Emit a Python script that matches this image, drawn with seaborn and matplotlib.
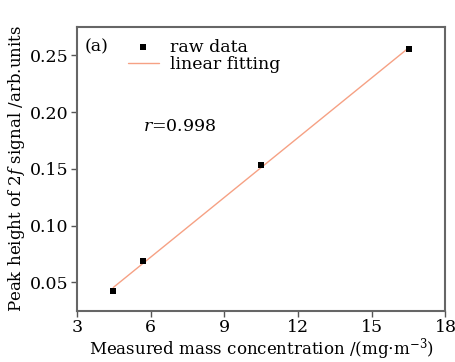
import numpy as np
import pandas as pd
import matplotlib
matplotlib.use("Agg")
import matplotlib.pyplot as plt
import seaborn as sns

# Data
concentration = [4.48, 5.70, 10.49, 16.53]
peak_height = [0.0424, 0.069, 0.153, 0.256]
x_ticks = [3, 6, 9, 12, 15, 18]
y_ticks = [0.05, 0.10, 0.15, 0.20, 0.25]

df = pd.DataFrame({"x": concentration, "y": peak_height})

sns.set_theme(style="white")
plt.rcParams["font.family"] = ["DejaVu Serif"]
plt.rcParams["mathtext.fontset"] = "dejavuserif"
plt.rcParams["text.color"] = "black"
plt.rcParams["axes.labelcolor"] = "black"
plt.rcParams["xtick.color"] = "black"
plt.rcParams["ytick.color"] = "black"

fig = plt.figure(figsize=(4.55, 3.62), dpi=100)
ax = fig.add_axes([0.169, 0.142, 0.81, 0.783])

sns.regplot(data=df, x="x", y="y", scatter=False, ci=None, ax=ax,
            line_kws=dict(color="#f6a184", lw=1.0), label="linear fitting")
sns.scatterplot(data=df, x="x", y="y", marker="s", s=22, color="black",
                edgecolor="black", linewidth=0, ax=ax, label="raw data", zorder=5)

ax.set_xlim(3, 18)
ax.set_ylim(0.025, 0.275)
ax.set_xticks(x_ticks)
ax.set_xticklabels([str(v) for v in x_ticks])
ax.set_yticks(y_ticks)
ax.set_yticklabels([f"{v:.2f}" for v in y_ticks])

ax.tick_params(axis="both", which="major", direction="out", length=4, width=1,
               color="#555555", labelsize=12.5, pad=2,
               bottom=True, left=True, top=False, right=False)
for s in ax.spines.values():
    s.set_color("#666666")
    s.set_linewidth(1.5)

ax.set_xlabel(r"Measured mass concentration /(mg$\cdot$m$^{-3}$)", fontsize=12, labelpad=0)
ax.set_ylabel(r"Peak height of 2$\it{f}$ signal /arb.units", fontsize=12, labelpad=2)

handles, labels = ax.get_legend_handles_labels()
order = [labels.index("raw data"), labels.index("linear fitting")]
ax.legend([handles[i] for i in order], [labels[i] for i in order],
          loc="upper left", bbox_to_anchor=(0.11, 0.995), frameon=False,
          fontsize=12.5, handlelength=1.8, handletextpad=0.6,
          labelspacing=0.0, borderaxespad=0.2)

ax.text(0.02, 0.96, "(a)", transform=ax.transAxes, fontsize=12.5, va="top", ha="left")
ax.text(0.18, 0.65, r"$r$=0.998", transform=ax.transAxes, fontsize=12.5, va="center", ha="left")

fig.savefig("out.png", dpi=100)
